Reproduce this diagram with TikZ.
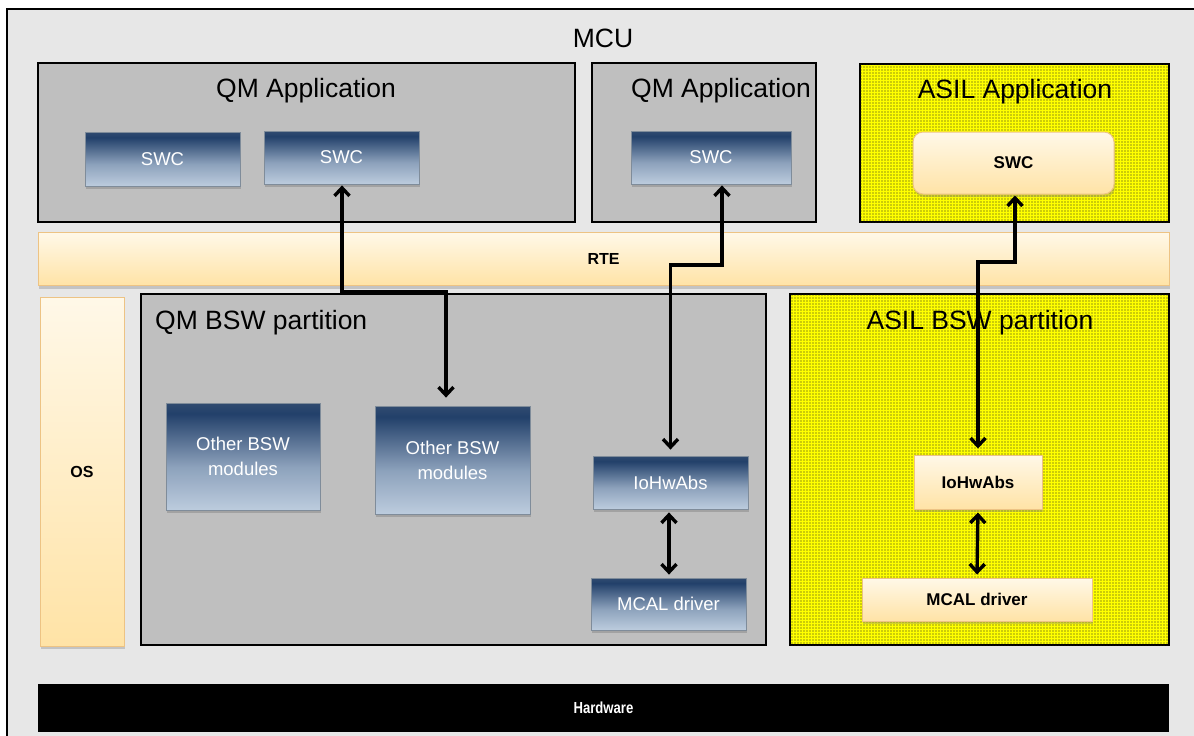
\documentclass[tikz,border=0pt]{standalone}
\usepackage{fontspec}
\setmainfont{Liberation Sans}
\usetikzlibrary{arrows.meta,shadows,patterns.meta,calc}
\definecolor{mcugray}{HTML}{E7E7E7}
\definecolor{boxgray}{HTML}{BFBFBF}
\definecolor{navyA}{HTML}{C8D6E6}
\definecolor{navyB}{HTML}{8DA2BC}
\definecolor{navyC}{HTML}{22406A}
\definecolor{navyD}{HTML}{5E6E82}
\definecolor{navyE}{HTML}{A9B3BF}
\definecolor{navyedge}{HTML}{7F8C9A}
\definecolor{creamtop}{HTML}{FFF8E8}
\definecolor{creambot}{HTML}{FFE3A6}
\definecolor{creamedge}{HTML}{EDC384}
\definecolor{asilyellow}{HTML}{FFFF00}
\pgfdeclareverticalshading{navyshade}{100bp}{color(0bp)=(navyA); color(20bp)=(navyA); color(45bp)=(navyB); color(70bp)=(navyC); color(90bp)=(navyD); color(97bp)=(navyE); color(100bp)=(navyE)}
\begin{document}
\begin{tikzpicture}[x=1pt,y=-1pt,
  container/.style={draw=black, line width=1.4pt, fill=boxgray, inner sep=0pt},
  asilbox/.style={draw=black, line width=1.4pt, fill=asilyellow, inner sep=0pt,
    postaction={pattern={Dots[distance=3pt,radius=0.55pt]}, pattern color=black!85}},
  title/.style={font=\fontsize{26.5}{30}\selectfont, text=black, inner sep=0pt},
  navybox/.style={shading=navyshade, draw=navyedge, line width=0.8pt, text=white,
    font=\fontsize{18.5}{21}\selectfont, align=center, inner sep=0pt,
    drop shadow={opacity=0.45, shadow xshift=1pt, shadow yshift=-3pt}},
  creambox/.style={top color=creamtop, bottom color=creambot, draw=creamedge, line width=1pt,
    text=black, font=\fontsize{17}{20}\selectfont\bfseries, align=center, inner sep=0pt,
    drop shadow={opacity=0.35, shadow xshift=1pt, shadow yshift=-3pt}},
  biarr/.style={line width=3.4pt, {Straight Barb[length=8pt,width=15pt]}-{Straight Barb[length=8pt,width=15pt]}},
]
\useasboundingbox (0,0) rectangle (1194,736);
\begin{scope}
\clip (0,0) rectangle (1194,736);
\draw[fill=mcugray, line width=1.5pt] (7,9) rectangle (1215,760);
\end{scope}
\node[title] (mcu) at (603,38) {MCU};

% applications
\node[container, minimum width=537, minimum height=159] (qmapp1) at (306.5,142.5) {};
\node[title] (qmapp1t) at (306,91) {QM Application};
\node[container, minimum width=224, minimum height=159] (qmapp2) at (704,142.5) {};
\node[title] (qmapp2t) at (721,91) {QM Application};
\node[asilbox, minimum width=309, minimum height=158] (asilapp) at (1014.5,143) {};
\node[title] (asilappt) at (1015,92) {ASIL Application};

\node[navybox, minimum width=155, minimum height=54] (swc1) at (162.5,159) {SWC};
\node[navybox, minimum width=155, minimum height=53] (swc2) at (341.5,157.5) {SWC};
\node[navybox, minimum width=160, minimum height=53] (swc3) at (711,157.5) {SWC};
\node[creambox, rounded corners=10pt, minimum width=201, minimum height=62] (swc4) at (1013.5,163) {SWC};

% RTE and OS
\node[creambox, minimum width=1131, minimum height=53, font=\fontsize{16}{19}\selectfont\bfseries] (rte) at (603.5,259) {RTE};
\node[creambox, minimum width=84, minimum height=349, font=\fontsize{16}{19}\selectfont\bfseries] (os) at (82,471.5) {OS};

% BSW partitions
\node[container, minimum width=625, minimum height=351] (qmbsw) at (453.5,469.5) {};
\node[title, anchor=west] (qmbswt) at (155,323) {QM BSW partition};
\node[asilbox, minimum width=379, minimum height=351] (asilbsw) at (979.5,469.5) {};
\node[title] (asilbswt) at (980,323) {ASIL BSW partition};

\node[navybox, minimum width=154, minimum height=107, font=\fontsize{18.5}{25}\selectfont] (obsw1) at (243,456.5) {Other BSW\\modules};
\node[navybox, minimum width=155, minimum height=108, font=\fontsize{18.5}{25}\selectfont] (obsw2) at (452.5,460) {Other BSW\\modules};
\node[navybox, minimum width=155, minimum height=53] (io1) at (670.5,482.5) {IoHwAbs};
\node[navybox, minimum width=155, minimum height=52] (mcal1) at (668.5,604) {MCAL driver};
\node[creambox, minimum width=128, minimum height=54] (io2) at (978,482) {IoHwAbs};
\node[creambox, minimum width=230, minimum height=43] (mcal2) at (977,599.5) {MCAL driver};

% Hardware
\node[fill=black, minimum width=1131, minimum height=48, inner sep=0pt, text=white,
  font=\fontsize{16}{19}\selectfont\bfseries] (hw) at (603.5,708) {\scalebox{0.82}[1]{Hardware}};

% connectors
\draw[biarr, shorten >=8pt, shorten <=1pt] ([xshift=0.5pt]swc2.south) -- ([xshift=0.5pt]swc2.south |- 0,292) -| ([xshift=-6.5pt]obsw2.north);
\draw[biarr, shorten >=6pt, shorten <=1pt] ([xshift=11pt]swc3.south) -- ([xshift=11pt]swc3.south |- 0,265) -| (io1.north);
\draw[biarr, shorten >=6pt, shorten <=1pt] ([xshift=1.5pt]swc4.south) -- ([xshift=1.5pt]swc4.south |- 0,262) -| (io2.north);
\draw[biarr, shorten >=3pt, shorten <=3pt] ([xshift=-1.5pt]io1.south) -- ([xshift=-1.5pt]io1.south |- mcal1.north);
\draw[biarr, shorten >=3pt, shorten <=3pt] (io2.south) -- (mcal2.north);
\end{tikzpicture}
\end{document}
